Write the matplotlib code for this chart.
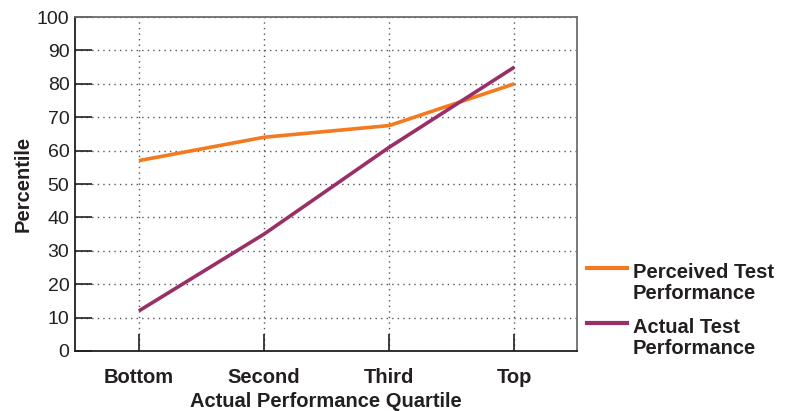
import matplotlib

matplotlib.use("Agg")

import matplotlib.pyplot as plt
from matplotlib.lines import Line2D

plt.rcParams["font.family"] = ["Liberation Sans", "DejaVu Sans"]

# Percentile by actual performance quartile
quartiles = ["Bottom", "Second", "Third", "Top"]
perceived = [57, 64, 67.5, 80]
actual = [12, 35, 61, 85]
y_ticks = [0, 10, 20, 30, 40, 50, 60, 70, 80, 90, 100]
series_names = ["Perceived Test\nPerformance", "Actual Test\nPerformance"]

ORANGE = "#F47A20"
PURPLE = "#9A2F68"
TEXT = "#231F20"
BOLD = 14.5

fig = plt.figure(figsize=(7.88, 4.11), dpi=100)
ax = fig.add_axes([0.0952, 0.146, 0.637, 0.8126])

x = list(range(len(quartiles)))
ax.plot(x, perceived, color=ORANGE, linewidth=2.6, solid_capstyle="butt", zorder=3)
ax.plot(x, actual, color=PURPLE, linewidth=2.6, solid_capstyle="butt", zorder=3)

ax.set_xlim(-0.51, 3.5)
ax.set_ylim(0, 100)
ax.set_yticks(y_ticks)
ax.set_xticks(x)
ax.set_xticklabels(quartiles, fontsize=BOLD, fontweight="bold", color=TEXT)
ax.tick_params(axis="y", labelsize=14, labelcolor=TEXT, direction="in",
               length=12, width=1.2, color=TEXT, pad=4)
ax.tick_params(axis="x", direction="in", length=12, width=1.2, color=TEXT, pad=12)

ax.grid(True, color="#555555", linestyle=(0, (1, 3)), linewidth=1)

ax.set_xlabel("Actual Performance Quartile", fontsize=BOLD, fontweight="bold",
              color=TEXT, labelpad=4)
ax.set_ylabel("Percentile", fontsize=BOLD, fontweight="bold", color=TEXT,
              labelpad=3)

for side in ("left", "bottom"):
    ax.spines[side].set_color(TEXT)
    ax.spines[side].set_linewidth(1.3)
for side in ("top", "right"):
    ax.spines[side].set_color("#6d6d6d")
    ax.spines[side].set_linewidth(1.3)

# Legend drawn by hand: handle sits beside the first line of each label
legend_rows = [(ORANGE, 0.348), (PURPLE, 0.214)]
for (color, y), name in zip(legend_rows, series_names):
    fig.add_artist(Line2D([0.745, 0.796], [y, y], color=color, linewidth=3,
                          transform=fig.transFigure))
    fig.text(0.803, y + 0.012, name, fontsize=BOLD, fontweight="bold",
             color=TEXT, ha="left", va="top", linespacing=1.15,
             transform=fig.transFigure)

fig.savefig("out.png", dpi=100)
